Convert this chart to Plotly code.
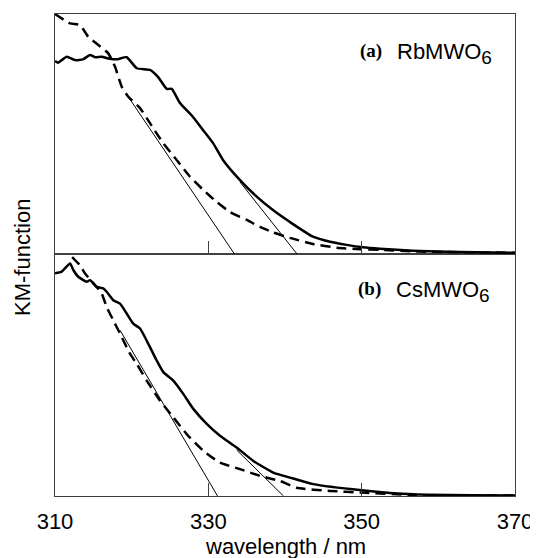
import plotly.graph_objects as go

# ---------------- data ----------------
# Panel (a) RbMWO6 : solid spectrum
wl_a_solid = [310.0, 310.39, 311.53, 312.61, 313.65, 314.56, 315.22, 316.09, 316.95, 318.05,
              319.35, 320.66, 322.39, 323.43, 324.57, 325.22, 326.30, 328.0, 329.3, 330.6,
              331.91, 334.13, 336.35, 338.43, 340.65, 343.65, 345.87, 348.05, 350.17, 352.39,
              356.69, 362.82, 370.0]
km_a_solid = [0.804, 0.797, 0.822, 0.808, 0.811, 0.829, 0.820, 0.822, 0.815, 0.811,
              0.820, 0.774, 0.767, 0.738, 0.688, 0.688, 0.629, 0.571, 0.517, 0.463,
              0.392, 0.308, 0.238, 0.183, 0.133, 0.072, 0.051, 0.038, 0.028, 0.022,
              0.014, 0.008, 0.005]
# Panel (a) dashed spectrum
wl_a_dash = [310.0, 311.96, 313.26, 314.34, 315.65, 316.95, 317.83, 318.70, 319.56, 321.09,
             322.39, 324.13, 325.87, 327.61, 329.34, 331.09, 332.83, 335.0, 336.74, 338.43,
             340.65, 343.65, 346.78, 349.78, 352.39, 357.6, 364.1, 370.0]
km_a_dash = [1.0, 0.961, 0.954, 0.905, 0.871, 0.836, 0.780, 0.697, 0.655, 0.608,
             0.545, 0.461, 0.392, 0.322, 0.267, 0.217, 0.175, 0.142, 0.113, 0.090,
             0.067, 0.042, 0.026, 0.020, 0.017, 0.010, 0.007, 0.005]
# Panel (a) tangent lines
wl_a_tan1 = [319.56, 333.41]
km_a_tan1 = [0.655, 0.0]
wl_a_tan2 = [334.13, 341.57]
km_a_tan2 = [0.300, 0.0]

# Panel (b) CsMWO6 : solid spectrum
wl_b_solid = [310.0, 310.87, 311.96, 312.39, 313.04, 314.13, 314.57, 315.44, 316.30, 316.74,
              317.60, 318.48, 319.35, 320.21, 321.09, 322.39, 323.26, 324.13, 325.43, 326.73,
              328.04, 329.79, 331.52, 333.70, 335.87, 338.47, 340.65, 343.69, 350.0, 356.69,
              370.0]
km_b_solid = [0.920, 0.927, 0.961, 0.934, 0.906, 0.885, 0.892, 0.864, 0.858, 0.844,
              0.809, 0.795, 0.754, 0.712, 0.692, 0.615, 0.560, 0.512, 0.477, 0.422,
              0.360, 0.298, 0.249, 0.200, 0.145, 0.097, 0.076, 0.049, 0.024, 0.007,
              0.002]
# Panel (b) dashed spectrum
wl_b_dash = [311.0, 311.96, 313.26, 313.91, 315.22, 316.09, 316.74, 317.60, 318.48, 319.78,
             320.66, 321.96, 323.70, 325.43, 327.17, 329.34, 331.52, 334.13, 336.74, 339.35,
             341.52, 345.87, 350.0, 356.69, 370.0]
km_b_dash = [1.04, 0.996, 0.954, 0.920, 0.871, 0.837, 0.781, 0.726, 0.671, 0.588,
             0.546, 0.477, 0.394, 0.325, 0.256, 0.187, 0.138, 0.111, 0.083, 0.062,
             0.034, 0.021, 0.014, 0.004, 0.002]
# Panel (b) tangent lines
wl_b_tan1 = [318.48, 331.2]
km_b_tan1 = [0.685, 0.0]
wl_b_tan2 = [333.7, 339.8]
km_b_tan2 = [0.190, 0.0]

x_ticks = [310, 330, 350, 370]
x_tick_labels = ["310", "330", "350", "370"]

# ---------------- figure ----------------
FONT = "Liberation Sans, Arial, sans-serif"
SERIF = "Liberation Serif, Times New Roman, serif"
AXC = "#404040"

fig = go.Figure()

def add_panel(xa, ya, ws, ks, wd, kd, t1, t2):
    fig.add_trace(go.Scatter(x=ws, y=ks, mode="lines", xaxis=xa, yaxis=ya,
                             line=dict(color="black", width=2.5, shape="spline", smoothing=0.5),
                             showlegend=False))
    fig.add_trace(go.Scatter(x=wd, y=kd, mode="lines", xaxis=xa, yaxis=ya,
                             line=dict(color="black", width=2.5, dash="10px,6px",
                                       shape="spline", smoothing=0.5),
                             showlegend=False))
    for (tx, ty) in (t1, t2):
        fig.add_trace(go.Scatter(x=tx, y=ty, mode="lines", xaxis=xa, yaxis=ya,
                                 line=dict(color="black", width=1), showlegend=False))

add_panel("x2", "y2", wl_a_solid, km_a_solid, wl_a_dash, km_a_dash,
          (wl_a_tan1, km_a_tan1), (wl_a_tan2, km_a_tan2))
add_panel("x", "y", wl_b_solid, km_b_solid, wl_b_dash, km_b_dash,
          (wl_b_tan1, km_b_tan1), (wl_b_tan2, km_b_tan2))

# page body has an 8px margin: figure sits at (8, 8) in the window
OFF = 8
W, H = 530, 550
L, R, T, B = 47, 23, 6, 62
split = 242 / 482

xcommon = dict(range=[310, 370], tickmode="array", tickvals=x_ticks,
               ticks="inside", ticklen=13, tickwidth=1, tickcolor=AXC,
               showline=True, linecolor=AXC, linewidth=1.2, mirror=True,
               showgrid=False, zeroline=False, automargin=False)
ycommon = dict(range=[0, 1], showticklabels=False, ticks="",
               showline=True, linecolor=AXC, linewidth=1.2, mirror=True,
               showgrid=False, zeroline=False, automargin=False)

fig.update_layout(
    width=W, height=H,
    margin=dict(l=L, r=R, t=T, b=B),
    plot_bgcolor="white", paper_bgcolor="white",
    font=dict(family=FONT, size=22, color="black"),
    xaxis=dict(**xcommon, anchor="y", ticktext=x_tick_labels, showticklabels=True,
               ticklabelstandoff=5, tickfont=dict(size=22, family=FONT)),
    xaxis2=dict(**xcommon, anchor="y2", matches="x", showticklabels=False),
    yaxis=dict(**ycommon, domain=[0, split], anchor="x"),
    yaxis2=dict(**ycommon, domain=[split, 1], anchor="x2"),
)

def px2paper(px, py):
    fx, fy = px - OFF, py - OFF
    return (fx - L) / (W - L - R), (H - B - fy) / (H - T - B)

annos = []
def lab(text, px, py, xanchor, size, family, **kw):
    x, y = px2paper(px, py)
    annos.append(dict(text=text, x=x, y=y, xref="paper", yref="paper",
                      xanchor=xanchor, yanchor="middle", showarrow=False,
                      font=dict(size=size, family=family, color="black"), **kw))

lab("<b>(a)</b>", 384, 51, "right", 19, SERIF)
lab("RbMWO<sub><span style='font-size:19px'>6</span></sub>", 395, 53, "left", 22, FONT)
lab("<b>(b)</b>", 383, 289, "right", 19, SERIF)
lab("CsMWO<sub><span style='font-size:19px'>6</span></sub>", 394, 291, "left", 22, FONT)
lab("KM-function", 22, 258, "center", 22, FONT, textangle=-90)
lab("wavelength / nm", 285, 546, "center", 22, FONT)

fig.update_layout(annotations=annos)
fig.write_html("out.html")
